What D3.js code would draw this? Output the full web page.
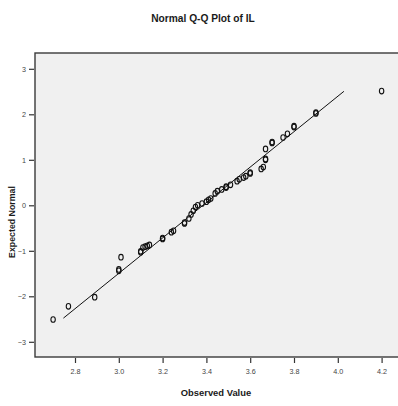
<!DOCTYPE html>
<html>
<head>
<meta charset="utf-8">
<script src="https://cdn.jsdelivr.net/npm/d3@7"></script>
<style>
  html, body { margin: 0; padding: 0; background: #fff; }
  svg { display: block; }
</style>
</head>
<body>
<svg id="chart" width="398" height="406"></svg>
<script>
// Observed values (x) and expected normal values (y)
const observed = [2.70, 2.77, 2.89, 3.00, 3.00, 3.01, 3.10, 3.10, 3.11, 3.12, 3.13, 3.14,
  3.20, 3.20, 3.24, 3.25, 3.30, 3.30, 3.32, 3.33, 3.34, 3.35, 3.36, 3.38, 3.40, 3.41, 3.42,
  3.44, 3.45, 3.47, 3.49, 3.49, 3.51, 3.54, 3.55, 3.57, 3.58, 3.60, 3.60, 3.65, 3.66,
  3.67, 3.67, 3.67, 3.70, 3.70, 3.75, 3.77, 3.80, 3.80, 3.90, 3.90, 4.20];
const expected = [-2.51, -2.22, -2.02, -1.44, -1.41, -1.14, -1.03, -1.01, -0.93, -0.91, -0.89, -0.87,
  -0.74, -0.72, -0.59, -0.56, -0.40, -0.38, -0.29, -0.20, -0.12, -0.04, 0.00, 0.04, 0.08, 0.12, 0.15,
  0.26, 0.31, 0.35, 0.39, 0.41, 0.45, 0.53, 0.57, 0.61, 0.64, 0.70, 0.72, 0.80, 0.84,
  1.00, 1.02, 1.24, 1.37, 1.39, 1.49, 1.57, 1.72, 1.74, 2.02, 2.04, 2.51];
// Reference line endpoints
const lineX = [2.747, 4.028];
const lineY = [-2.48, 2.505];
// Tick labels
const xTicks = [2.8, 3.0, 3.2, 3.4, 3.6, 3.8, 4.0, 4.2];
const yTicks = [-3, -2, -1, 0, 1, 2, 3];

const svg = d3.select("#chart");
const font = "'Liberation Sans', Arial, Helvetica, sans-serif";

const plot = { left: 35, top: 53, right: 400, bottom: 357 };

const x = d3.scaleLinear().domain([2.8, 4.2]).range([75, 381.6]);
const y = d3.scaleLinear().domain([-3, 3]).range([341.8, 68.8]);

// title
svg.append("text")
  .attr("x", 203).attr("y", 21.5)
  .attr("text-anchor", "middle")
  .attr("font-family", font).attr("font-size", 10.2).attr("font-weight", "bold")
  .attr("fill", "#1a1a1a")
  .text("Normal Q-Q Plot of IL");

// plot background
svg.append("rect")
  .attr("x", plot.left).attr("y", plot.top)
  .attr("width", plot.right - plot.left).attr("height", plot.bottom - plot.top)
  .attr("fill", "#f0f0f0")
  .attr("stroke", "#3a3a3a").attr("stroke-width", 1.4);

// axes
const xAxis = d3.axisBottom(x).tickValues(xTicks).tickFormat(d3.format(".1f")).tickSize(5).tickPadding(6);
const gx = svg.append("g").attr("transform", `translate(0,${plot.bottom + 1})`).call(xAxis);
gx.select(".domain").remove();
gx.selectAll("line").attr("stroke", "#333").attr("stroke-width", 1.2);
gx.selectAll("text").attr("font-family", font).attr("font-size", 7.2).attr("fill", "#444");

const yAxis = d3.axisLeft(y).tickValues(yTicks).tickFormat(d3.format("d")).tickSize(5).tickPadding(3);
const gy = svg.append("g").attr("transform", `translate(${plot.left - 1},0)`).call(yAxis);
gy.select(".domain").remove();
gy.selectAll("line").attr("stroke", "#333").attr("stroke-width", 1.2);
gy.selectAll("text").attr("font-family", font).attr("font-size", 7.2).attr("fill", "#444");

// axis titles
svg.append("text")
  .attr("x", 216).attr("y", 396)
  .attr("text-anchor", "middle")
  .attr("font-family", font).attr("font-size", 9.4).attr("font-weight", "bold")
  .attr("fill", "#1a1a1a")
  .text("Observed Value");

svg.append("text")
  .attr("transform", "translate(15,222) rotate(-90)")
  .attr("text-anchor", "middle")
  .attr("font-family", font).attr("font-size", 8.8).attr("font-weight", "bold")
  .attr("fill", "#1a1a1a")
  .text("Expected Normal");

// reference line
svg.append("line")
  .attr("x1", x(lineX[0])).attr("y1", y(lineY[0]))
  .attr("x2", x(lineX[1])).attr("y2", y(lineY[1]))
  .attr("stroke", "#111").attr("stroke-width", 1);

// points
const pts = observed.map((v, i) => ({ x: v, y: expected[i] }));
svg.append("g").selectAll("ellipse").data(pts).join("ellipse")
  .attr("cx", d => x(d.x)).attr("cy", d => y(d.y))
  .attr("rx", 2.2).attr("ry", 2.8)
  .attr("fill", "none").attr("stroke", "#111").attr("stroke-width", 1.1);
</script>
</body>
</html>
